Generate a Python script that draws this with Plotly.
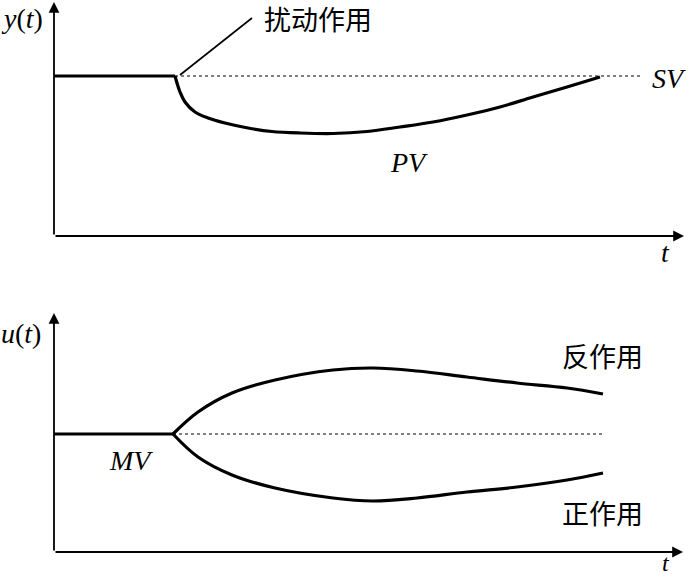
import plotly.graph_objects as go

# ---- data (arbitrary time / value units) ----
pvflat_t = [0, 12.1]
pvflat_y = [16.0, 16.0]
pv_t = [12.1, 12.6, 13.1, 14.1, 15.4, 17.1, 19.4, 21.8, 24.6, 27.9, 31.3, 34.6, 37.9, 41.3, 44.6, 47.9, 51.3, 54.6]
pv_y = [16.0, 14.4, 13.4, 12.4, 11.8, 11.3, 10.8, 10.45, 10.3, 10.25, 10.45, 10.9, 11.4, 12.1, 12.9, 13.9, 14.9, 15.9]
sv_t = [12.1, 58.6]
sv_y = [16.0, 16.0]

mv_t = [0, 11.9]
mv_y = [11.8, 11.8]
rev_t = [11.9, 14.4, 17.8, 22.1, 27.9, 31.9, 36.3, 41.3, 46.3, 51.3, 54.9]
rev_y = [11.8, 14.0, 15.9, 17.2, 18.2, 18.4, 18.1, 17.5, 16.9, 16.4, 15.8]
dir_t = [11.9, 14.4, 17.8, 22.1, 27.9, 31.9, 36.3, 41.3, 46.3, 51.3, 54.9]
dir_y = [11.8, 9.5, 7.7, 6.4, 5.4, 5.1, 5.4, 6.0, 6.5, 7.2, 7.9]
mvref_t = [11.9, 55.1]
mvref_y = [11.8, 11.8]

dist_t = [12.6, 19.8]
dist_y = [16.1, 21.8]

SERIF = "Liberation Serif"
CJK = "Noto Sans CJK SC"

fig = go.Figure()
thick = dict(color="black", width=3.2)
# top panel
fig.add_trace(go.Scatter(x=sv_t, y=sv_y, mode="lines", line=dict(color="black", width=1, dash="dot"), xaxis="x", yaxis="y"))
fig.add_trace(go.Scatter(x=pvflat_t, y=pvflat_y, mode="lines", line=thick, xaxis="x", yaxis="y"))
fig.add_trace(go.Scatter(x=pv_t, y=pv_y, mode="lines", line=dict(shape="spline", smoothing=1.0, **thick), xaxis="x", yaxis="y"))
fig.add_trace(go.Scatter(x=dist_t, y=dist_y, mode="lines", line=dict(color="black", width=1.6), xaxis="x", yaxis="y"))
# bottom panel
fig.add_trace(go.Scatter(x=mvref_t, y=mvref_y, mode="lines", line=dict(color="black", width=1, dash="dot"), xaxis="x2", yaxis="y2"))
fig.add_trace(go.Scatter(x=mv_t, y=mv_y, mode="lines", line=thick, xaxis="x2", yaxis="y2"))
fig.add_trace(go.Scatter(x=rev_t, y=rev_y, mode="lines", line=dict(shape="spline", smoothing=1.0, **thick), xaxis="x2", yaxis="y2"))
fig.add_trace(go.Scatter(x=dir_t, y=dir_y, mode="lines", line=dict(shape="spline", smoothing=1.0, **thick), xaxis="x2", yaxis="y2"))

ax_common = dict(showgrid=False, zeroline=False, showticklabels=False, ticks="", showline=False, fixedrange=True)
fig.update_layout(
    width=690, height=578, margin=dict(l=0, r=0, t=0, b=0),
    paper_bgcolor="white", plot_bgcolor="white", showlegend=False,
    xaxis=dict(domain=[0, 1], range=[-5.4, 63.6], anchor="y", **ax_common),
    yaxis=dict(domain=[1 - 260 / 578, 1], range=[-2.4, 23.6], anchor="x", **ax_common),
    xaxis2=dict(domain=[0, 1], range=[-5.4, 63.6], anchor="y2", **ax_common),
    yaxis2=dict(domain=[0, 288 / 578], range=[-2.6, 26.2], anchor="x2", **ax_common),
)

def arrow(xr, yr, x, y, ax, ay):
    fig.add_annotation(x=x, y=y, ax=ax, ay=ay, xref=xr, yref=yr, axref=xr, ayref=yr,
                       showarrow=True, arrowhead=2, arrowsize=1.2, arrowwidth=1.8,
                       arrowcolor="black", text="", standoff=0, startstandoff=0)

arrow("x", "y", 0, 23.4, 0, 0)
arrow("x", "y", 63.0, 0, 0, 0)
arrow("x2", "y2", 0, 23.9, 0, 0)
arrow("x2", "y2", 62.9, 0, 0, 0)

def label(xr, yr, x, y, text, font, size):
    fig.add_annotation(x=x, y=y, xref=xr, yref=yr, text=text, showarrow=False,
                       font=dict(family=font, size=size, color="black"),
                       xanchor="center", yanchor="middle")

label("x", "y", -3.2, 21.8, "<i>y</i>(<i>t</i>)", SERIF, 28)
label("x", "y", 61.1, -1.6, "<i>t</i>", SERIF, 28)
label("x", "y", 61.5, 15.8, "<i>SV</i>", SERIF, 28)
label("x", "y", 35.5, 7.4, "<i>PV</i>", SERIF, 28)
label("x", "y", 26.4, 21.8, "扰动作用", CJK, 27)

label("x2", "y2", -3.3, 21.9, "<i>u</i>(<i>t</i>)", SERIF, 28)
label("x2", "y2", 61.2, -1.1, "<i>t</i>", SERIF, 24)
label("x2", "y2", 7.7, 9.2, "<i>MV</i>", SERIF, 28)
label("x2", "y2", 54.8, 19.7, "反作用", CJK, 27)
label("x2", "y2", 54.8, 4.0, "正作用", CJK, 27)

fig.write_html("out.html", config={"displayModeBar": False},
               post_script="document.body.style.margin='0';document.body.style.padding='0';")
